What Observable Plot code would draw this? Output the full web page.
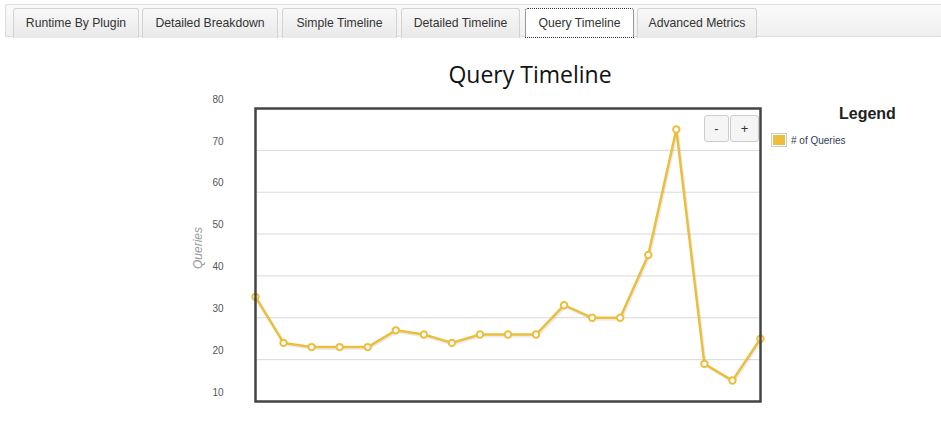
<!DOCTYPE html>
<html>
<head>
<meta charset="utf-8">
<script src="https://cdn.jsdelivr.net/npm/d3@7"></script>
<script src="https://cdn.jsdelivr.net/npm/@observablehq/plot@0.6"></script>
<style>
  html, body { margin: 0; padding: 0; background: #fff; width: 941px; height: 436px; overflow: hidden; font-family: "Liberation Sans", Arial, sans-serif; }
  #tabbar { position: absolute; left: 5px; top: 4px; width: 950px; height: 33px; border: 1px solid #ddd; border-right: none; border-radius: 3px 0 0 0; background: linear-gradient(#fbfbfb, #efefef); box-sizing: border-box; }
  .tab { position: absolute; top: 8px; height: 30px; box-sizing: border-box; border: 1px solid #d3d3d3; border-bottom: none; border-radius: 3px 3px 0 0; background: linear-gradient(#f8f8f8, #e9e9e9); font-size: 12.2px; color: #333; text-align: center; line-height: 28px; }
  .tab.active { background: #fff; border: 1px dotted #333; border-bottom: 1px dotted #333; height: 30px; }
  #title { position: absolute; left: 0; width: 1060px; top: 58px; text-align: center; font-family: "Open Sans", sans-serif; font-size: 23px; color: #111; }
  #chart { position: absolute; left: 0; top: 0; }
  .btn { position: absolute; top: 115px; height: 27px; box-sizing: border-box; border: 1px solid #ccc; border-radius: 3px; background: #f5f5f5; font-size: 13px; color: #333; text-align: center; line-height: 25px; }
  #legendTitle { position: absolute; left: 839px; top: 105px; font-size: 16px; font-weight: bold; color: #222; }
  #legendItem { position: absolute; left: 771px; top: 133px; font-size: 10px; color: #2f3d55; display: flex; align-items: center; }
  #legendItem .sw { width: 16px; height: 14px; box-sizing: border-box; border: 1px solid #ccc; padding: 1px; margin-right: 4px; }
  #legendItem .sw div { width: 100%; height: 100%; background: #ebbf3d; }
</style>
</head>
<body>
<div id="chart"></div>
<div id="tabbar"></div>
<div id="tabs"></div>
<div id="title">Query Timeline</div>
<div class="btn" style="left:704px;width:25px;">-</div>
<div class="btn" style="left:730px;width:29px;">+</div>
<div id="legendTitle">Legend</div>
<div id="legendItem"><div class="sw"><div></div></div><span># of Queries</span></div>
<script>
const tabNames = ["Runtime By Plugin", "Detailed Breakdown", "Simple Timeline", "Detailed Timeline", "Query Timeline", "Advanced Metrics"];
const tabLefts = [13, 142, 282, 401, 525, 637];
const tabWidths = [126, 136, 115, 119, 109, 120];
const activeTab = "Query Timeline";

const seriesName = "# of Queries";
const queries = [35, 24, 23, 23, 23, 27, 26, 24, 26, 26, 26, 33, 30, 30, 45, 75, 19, 15, 25];
const yTicks = [10, 20, 30, 40, 50, 60, 70, 80];
const gridTicks = [20, 30, 40, 50, 60, 70];

const tabsEl = document.getElementById("tabs");
tabNames.forEach((name, i) => {
  const d = document.createElement("div");
  d.className = "tab" + (name === activeTab ? " active" : "");
  d.style.left = tabLefts[i] + "px";
  d.style.width = tabWidths[i] + "px";
  d.textContent = name;
  tabsEl.appendChild(d);
});

const data = queries.map((v, i) => ({i, v}));
const color = "#ebbf3d";

const chart = Plot.plot({
  width: 941,
  height: 436,
  marginLeft: 255,
  marginRight: 181,
  marginTop: 108,
  marginBottom: 35,
  style: {fontFamily: "Liberation Sans, Arial, sans-serif", background: "transparent"},
  x: {domain: [0, queries.length - 1], axis: null},
  y: {domain: [10, 80], ticks: yTicks},
  marks: [
    Plot.ruleY(gridTicks, {stroke: "#d9d9d9", strokeWidth: 1}),
    Plot.axisY(yTicks, {tickSize: 0, tickPadding: 32, dy: -9, fontSize: 10, fill: "#555", label: null}),
    Plot.text(["Queries"], {frameAnchor: "left", textAnchor: "middle", dx: -57, dy: -7, rotate: -90, fontSize: 12, fontStyle: "italic", fill: "#9a9a9a"}),
    Plot.line(data, {x: "i", y: "v", stroke: "rgba(0,0,0,0.08)", strokeWidth: 3, dx: 1, dy: 1.5}),
    Plot.line(data, {x: "i", y: "v", stroke: color, strokeWidth: 2.5}),
    Plot.dot(data, {x: "i", y: "v", r: 3.2, fill: "white", stroke: color, strokeWidth: 2}),
    Plot.frame({stroke: "#444", strokeWidth: 2.5})
  ]
});
document.getElementById("chart").appendChild(chart);
</script>
</body>
</html>
